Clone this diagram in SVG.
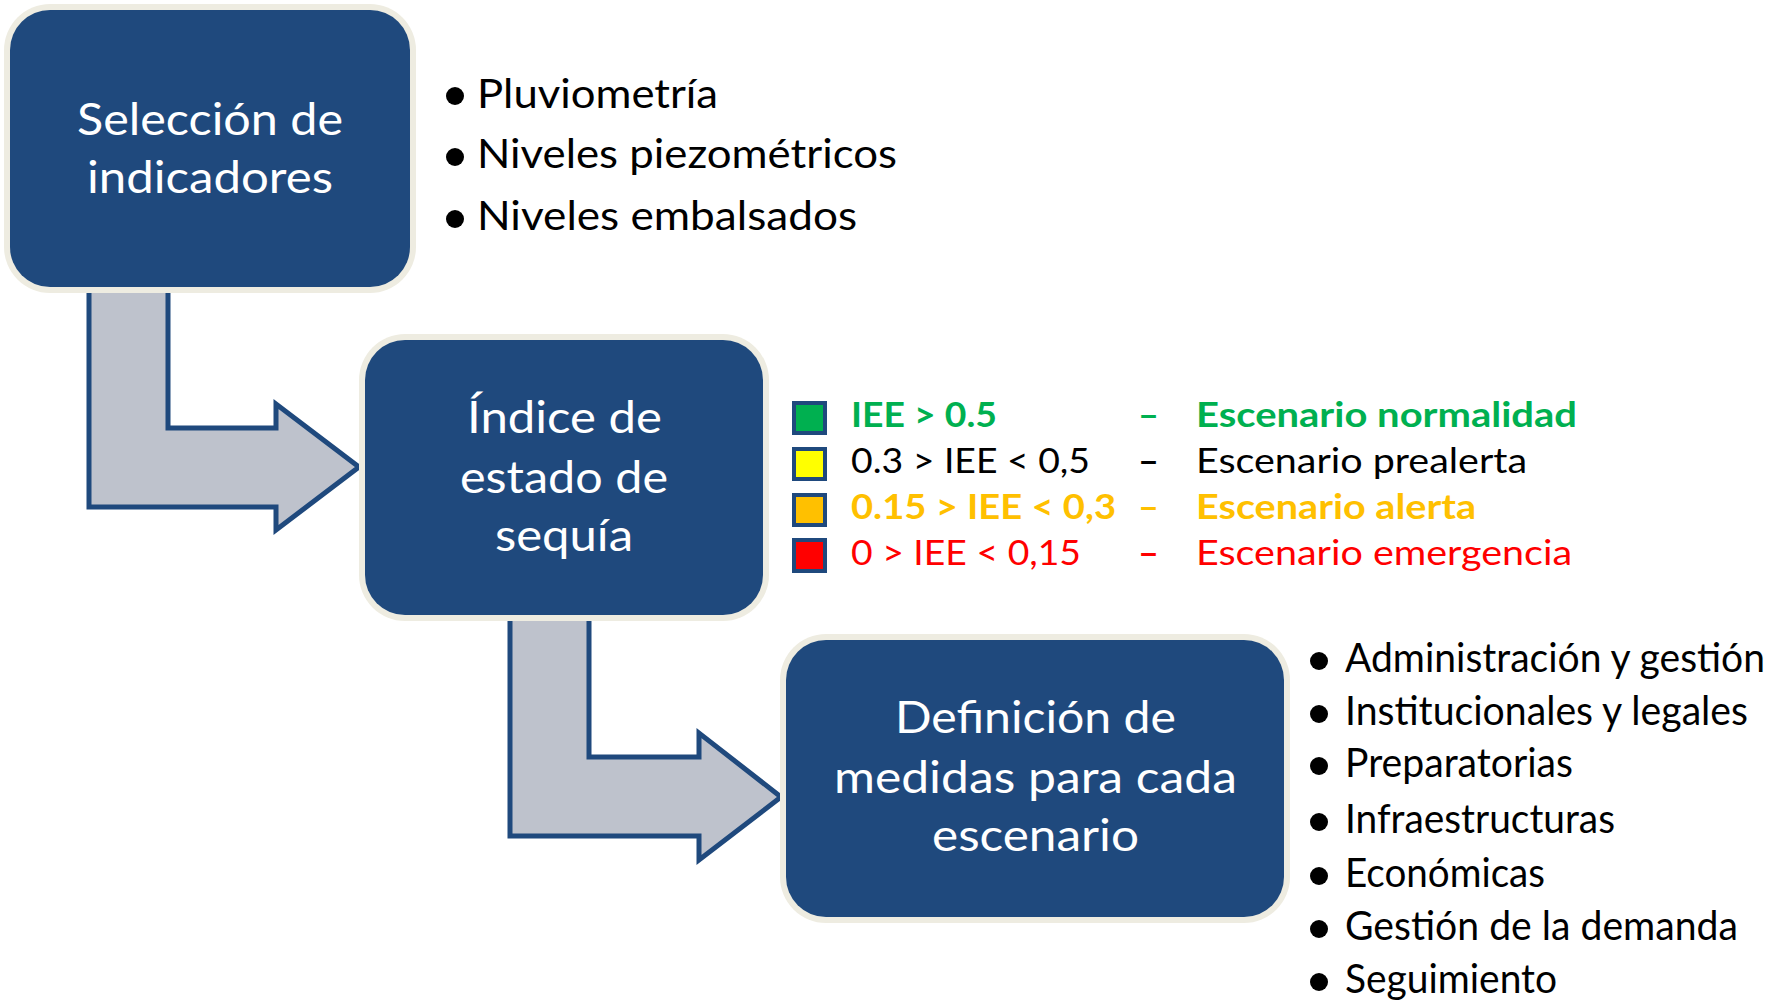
<svg xmlns="http://www.w3.org/2000/svg" width="1787" height="1001" viewBox="0 0 1787 1001">
<style>
.bg{fill:#ffffff}
.frame{fill:#EEECE1}
.box{fill:#1F497D}
.arrow{fill:#BEC2CC;stroke:#1F497D;stroke-width:5;stroke-linejoin:miter}
.bt{font-family:Lato,"Open Sans","Liberation Sans",sans-serif;font-size:44px;fill:#ffffff}
.li{font-family:Lato,"Open Sans","Liberation Sans",sans-serif;font-size:40px;fill:#000000}
.dot{fill:#000000}
.lg{font-family:Lato,"Open Sans","Liberation Sans",sans-serif;font-size:35px}
.b{font-weight:bold}
.sq{stroke:#1F497D;stroke-width:4}
.g{fill:#00B050}.k{fill:#000000}.o{fill:#FFC000}.r{fill:#FF0000}.y{fill:#FFFF00}
</style>
<rect class="bg" x="0" y="0" width="1787" height="1001"/>
<g id="connectors">
<path class="arrow" d="M89,282 L168,282 L168,428 L276,428 L276,404 L359,467 L276,530 L276,507 L89,507 Z"/>
<path class="arrow" d="M510,605 L589,605 L589,757 L699,757 L699,733 L781,797 L699,860 L699,836 L510,836 Z"/>
</g>
<g id="node-seleccion">
<rect class="frame" x="4" y="4" width="412" height="289" rx="46"/>
<rect class="box" x="10" y="10" width="400" height="277" rx="40"/>
<text class="bt" x="77" y="135" textLength="266" lengthAdjust="spacingAndGlyphs">Selección de</text>
<text class="bt" x="87" y="193" textLength="246" lengthAdjust="spacingAndGlyphs">indicadores</text>
</g>
<g id="list-indicadores">
<circle class="dot" cx="455" cy="96" r="9"/>
<text class="li" x="477" y="108" textLength="241" lengthAdjust="spacingAndGlyphs">Pluviometría</text>
<circle class="dot" cx="455" cy="157" r="9"/>
<text class="li" x="477" y="168" textLength="420" lengthAdjust="spacingAndGlyphs">Niveles piezométricos</text>
<circle class="dot" cx="455" cy="219" r="9"/>
<text class="li" x="477" y="230" textLength="380" lengthAdjust="spacingAndGlyphs">Niveles embalsados</text>
</g>
<g id="node-indice">
<rect class="frame" x="359" y="334" width="410" height="287" rx="46"/>
<rect class="box" x="365" y="340" width="398" height="275" rx="40"/>
<text class="bt" x="467" y="433" textLength="195" lengthAdjust="spacingAndGlyphs">Índice de</text>
<text class="bt" x="460" y="493" textLength="208" lengthAdjust="spacingAndGlyphs">estado de</text>
<text class="bt" x="495" y="551" textLength="138" lengthAdjust="spacingAndGlyphs">sequía</text>
</g>
<g id="legend">
<rect class="sq g" x="794" y="403" width="31" height="30"/>
<text class="lg b g" x="851" y="427" textLength="146" lengthAdjust="spacingAndGlyphs">IEE &gt; 0.5</text>
<text class="lg b g" x="1138" y="427" textLength="21" lengthAdjust="spacingAndGlyphs">–</text>
<text class="lg b g" x="1196" y="427" textLength="381" lengthAdjust="spacingAndGlyphs">Escenario normalidad</text>
<rect class="sq y" x="794" y="449" width="31" height="30"/>
<text class="lg k" x="851" y="473" textLength="239" lengthAdjust="spacingAndGlyphs">0.3 &gt; IEE &lt; 0,5</text>
<text class="lg k b" x="1138" y="473" textLength="21" lengthAdjust="spacingAndGlyphs">–</text>
<text class="lg k" x="1196" y="473" textLength="331" lengthAdjust="spacingAndGlyphs">Escenario prealerta</text>
<rect class="sq o" x="794" y="495" width="31" height="30"/>
<text class="lg b o" x="851" y="519" textLength="265" lengthAdjust="spacingAndGlyphs">0.15 &gt; IEE &lt; 0,3</text>
<text class="lg b o" x="1138" y="519" textLength="21" lengthAdjust="spacingAndGlyphs">–</text>
<text class="lg b o" x="1196" y="519" textLength="280" lengthAdjust="spacingAndGlyphs">Escenario alerta</text>
<rect class="sq r" x="794" y="540" width="31" height="31"/>
<text class="lg r" x="851" y="565" textLength="230" lengthAdjust="spacingAndGlyphs">0 &gt; IEE &lt; 0,15</text>
<text class="lg r b" x="1138" y="565" textLength="21" lengthAdjust="spacingAndGlyphs">–</text>
<text class="lg r" x="1196" y="565" textLength="376" lengthAdjust="spacingAndGlyphs">Escenario emergencia</text>
</g>
<g id="node-definicion">
<rect class="frame" x="780" y="634" width="510" height="289" rx="46"/>
<rect class="box" x="786" y="640" width="498" height="277" rx="40"/>
<text class="bt" x="895" y="733" textLength="281" lengthAdjust="spacingAndGlyphs">Definición de</text>
<text class="bt" x="834" y="793" textLength="403" lengthAdjust="spacingAndGlyphs">medidas para cada</text>
<text class="bt" x="932" y="851" textLength="207" lengthAdjust="spacingAndGlyphs">escenario</text>
</g>
<g id="list-medidas">
<circle class="dot" cx="1319" cy="661" r="9"/>
<text class="li" x="1345" y="672" textLength="420" lengthAdjust="spacingAndGlyphs">Administración y gestión</text>
<circle class="dot" cx="1319" cy="714" r="9"/>
<text class="li" x="1345" y="725" textLength="403" lengthAdjust="spacingAndGlyphs">Institucionales y legales</text>
<circle class="dot" cx="1319" cy="766" r="9"/>
<text class="li" x="1345" y="777" textLength="228" lengthAdjust="spacingAndGlyphs">Preparatorias</text>
<circle class="dot" cx="1319" cy="822" r="9"/>
<text class="li" x="1345" y="833" textLength="270" lengthAdjust="spacingAndGlyphs">Infraestructuras</text>
<circle class="dot" cx="1319" cy="876" r="9"/>
<text class="li" x="1345" y="887" textLength="200" lengthAdjust="spacingAndGlyphs">Económicas</text>
<circle class="dot" cx="1319" cy="929" r="9"/>
<text class="li" x="1345" y="940" textLength="393" lengthAdjust="spacingAndGlyphs">Gestión de la demanda</text>
<circle class="dot" cx="1319" cy="982" r="9"/>
<text class="li" x="1345" y="993" textLength="212" lengthAdjust="spacingAndGlyphs">Seguimiento</text>
</g>
</svg>
